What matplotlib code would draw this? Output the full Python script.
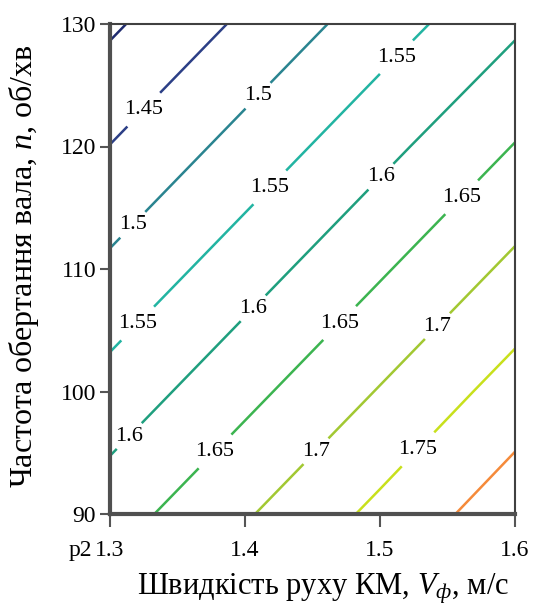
import matplotlib
matplotlib.use("Agg")
import matplotlib.pyplot as plt
import numpy as np

plt.rcParams['font.family'] = ['Liberation Serif', 'DejaVu Serif']
plt.rcParams['mathtext.fontset'] = 'custom'
plt.rcParams['mathtext.rm'] = 'Liberation Serif'
plt.rcParams['mathtext.it'] = 'Liberation Serif:italic'

# Data
speed = [1.3, 1.4, 1.5, 1.6]               # V, m/s
shaft_n = [90, 100, 110, 120, 130]         # n, rev/min
value_grid = [
    [1.628, 1.695, 1.762, 1.830],   # n = 90
    [1.569, 1.636, 1.703, 1.771],   # n = 100
    [1.510, 1.577, 1.644, 1.711],   # n = 110
    [1.451, 1.518, 1.585, 1.652],   # n = 120
    [1.392, 1.459, 1.526, 1.592],   # n = 130
]
levels = [1.40, 1.45, 1.50, 1.55, 1.60, 1.65, 1.70, 1.75, 1.80]
level_colors = ['#1e2a6e', '#2c3f86', '#2a8490', '#22b4a2', '#1f9f7e',
                '#3cb450', '#a2c832', '#c8e01c', '#f58a3a']
label_points = [
    (1.326, 122.9), (1.411, 124.0), (1.316, 113.7), (1.418, 116.7),
    (1.513, 127.2), (1.320, 105.6), (1.501, 117.5), (1.406, 106.8),
    (1.313, 96.5), (1.561, 115.8), (1.470, 105.6), (1.376, 95.3),
    (1.541, 105.5), (1.450, 95.4), (1.527, 95.4),
]
x_ticks = [1.3, 1.4, 1.5, 1.6]
y_ticks = [90, 100, 110, 120, 130]

fig = plt.figure(figsize=(5.43, 6.08), dpi=100)
ax = fig.add_axes([110/543, 1-514/608, 405/543, 490/608])

X, Y = np.meshgrid(speed, shaft_n)
Z = np.array(value_grid)
cs = ax.contour(X, Y, Z, levels=levels, colors=level_colors, linewidths=1.8)
labels = ax.clabel(cs, fmt='%g', fontsize=16, colors='black', inline=True,
                   inline_spacing=4, manual=label_points)
for t in labels:
    t.set_rotation(0)

ax.set_xlim(1.3, 1.6)
ax.set_ylim(90, 130)
ax.set_xticks(x_ticks)
ax.set_xticklabels(['%g' % v for v in x_ticks])
ax.set_yticks(y_ticks)
ax.set_yticklabels(['%d' % v for v in y_ticks])
ax.tick_params(axis='x', direction='out', length=9, width=1.5, color='#555555',
               labelsize=17, pad=10)
ax.tick_params(axis='y', direction='out', length=7, width=1.5, color='#555555',
               labelsize=17, pad=3)
for side in ['left', 'bottom']:
    ax.spines[side].set_linewidth(3)
    ax.spines[side].set_color('#505050')
for side in ['top', 'right']:
    ax.spines[side].set_linewidth(1.5)
    ax.spines[side].set_color('#404040')

fig.text(69/543, 1-556/608, 'p2', fontsize=17, ha='left', va='baseline')
fig.text(323/543, 1-595/608, 'Швидкість руху КМ, $V_{\\mathit{ф}}$, м/с',
         fontsize=22, ha='center', va='baseline')
fig.text(24/543, 1-266/608, 'Частота обертання вала, $n$, об/хв',
         fontsize=23, ha='center', va='center', rotation=90)

fig.savefig('out.png', dpi=100)
